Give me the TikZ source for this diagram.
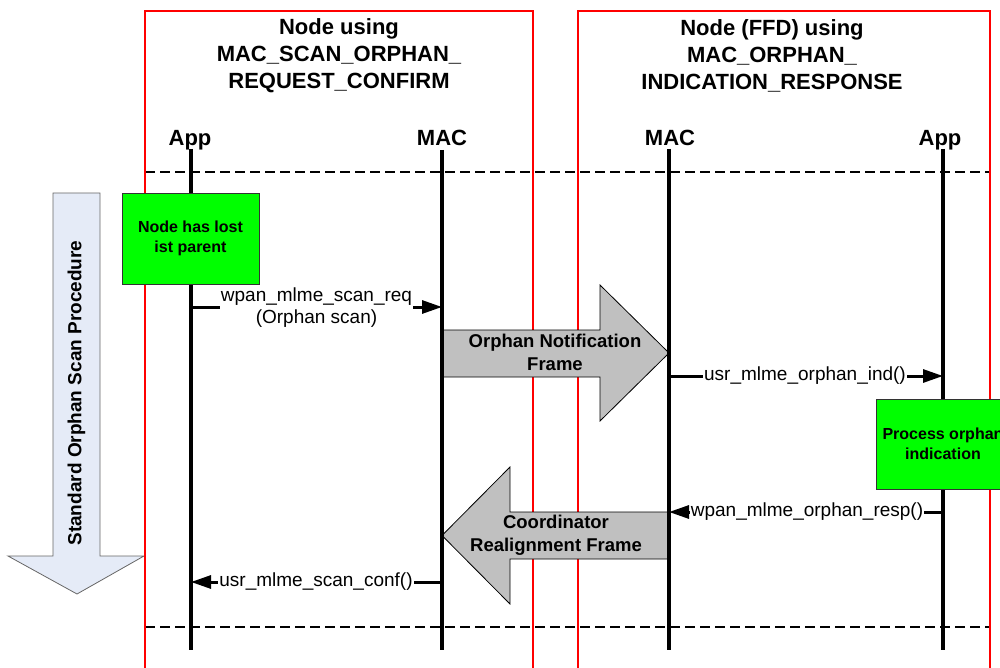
\documentclass[tikz,border=0pt]{standalone}
\usepackage{fontspec}
\setmainfont{Liberation Sans}
\usetikzlibrary{arrows.meta}
\definecolor{boxred}{RGB}{255,0,0}
\definecolor{framegray}{RGB}{192,192,192}
\definecolor{notegreen}{RGB}{0,255,0}
\definecolor{procblue}{RGB}{229,235,247}
\tikzset{
  lifeline/.style={line width=3.5pt},
  msgline/.style={line width=3pt, -{Triangle[length=20pt,width=13pt]}},
  msgtext/.style={fill=white, inner sep=1pt, font=\fontsize{19}{22}\selectfont},
  lbl/.style={font=\bfseries\fontsize{22}{26}\selectfont, inner sep=0pt},
  titletext/.style={font=\bfseries\fontsize{22}{27}\selectfont, align=center, inner sep=0pt},
  redline/.style={draw=boxred, line width=1.8pt},
  dashline/.style={line width=2pt, dash pattern=on 9.5pt off 5.5pt},
  framearrow/.style={fill=framegray, draw=black, line width=0.8pt},
  frametext/.style={font=\bfseries\fontsize{18.5}{23}\selectfont, align=center, inner sep=0pt},
  notebox/.style={fill=notegreen, draw=black!80, line width=0.8pt, align=center,
    font=\bfseries\fontsize{16}{19.5}\selectfont},
}
\begin{document}
\begin{tikzpicture}[x=1pt,y=-1pt]
\useasboundingbox (0,0) rectangle (1000,668);
\clip (0,0) rectangle (1000,668);

% procedure arrow
\draw[fill=procblue, draw=black!60, line width=0.8pt]
  (53,193) -- (100,193) -- (100,556) -- (144,556) -- (77,594) -- (8,556) -- (53,556) -- cycle;
\node[rotate=90, font=\bfseries\fontsize{19}{22}\selectfont, inner sep=0pt] (proc) at (76.5,393)
  {Standard Orphan Scan Procedure};

% dashed separators
\draw[dashline] (145,172) -- (990,172);
\draw[dashline] (145,627) -- (990,627);

% red boxes
\draw[redline] (145,675) |- (533,11) -- (533,675);
\draw[redline] (578,675) |- (990,11) -- (990,675);

% frame arrows
\draw[framearrow] (442,330) -- (600,330) -- (600,285) -- (669,353) -- (600,421) -- (600,377) -- (442,377) -- cycle;
\node[frametext] (orphfr) at (555,352.5) {Orphan Notification\\Frame};
\draw[framearrow] (669,512) -- (510,512) -- (510,467) -- (442,535.5) -- (510,604) -- (510,559) -- (669,559) -- cycle;
\node[frametext] (realfr) at (556,535.5) {Coordinator\\Realignment Frame};

% titles
\node[titletext] (titleL) at (339,56) {Node using\\MAC\_SCAN\_ORPHAN\_\\REQUEST\_CONFIRM};
\node[titletext] (titleR) at (772,56) {Node (FFD) using\\MAC\_ORPHAN\_\\INDICATION\_RESPONSE};

% lifeline labels
\node[lbl, anchor=base] (appL) at (190,145.5) {App};
\node[lbl, anchor=base] (macL) at (442,145.5) {MAC};
\node[lbl, anchor=base] (macR) at (670,145.5) {MAC};
\node[lbl, anchor=base] (appR) at (940,145.5) {App};

% lifelines
\coordinate (aLt) at (191,149); \coordinate (aLb) at (191,650);
\coordinate (mLt) at (442,150); \coordinate (mLb) at (442,650);
\coordinate (mRt) at (669,149); \coordinate (mRb) at (669,650);
\coordinate (aRt) at (943,149); \coordinate (aRb) at (943,650);
\draw[lifeline] (aLt) -- (aLb);
\draw[lifeline] (mLt) -- (mLb);
\draw[lifeline] (mRt) -- (mRb);
\draw[lifeline] (aRt) -- (aRb);

% notes
\node[notebox, minimum width=137pt, minimum height=91pt] (lost) at (190.5,238.5) {Node has lost\\ist parent};
\node[notebox, minimum width=134pt, minimum height=90pt] (procind) at (943,444) {Process orphan\\indication};

% messages
\coordinate (m1s) at (191,307); \coordinate (m1e) at (442,307);
\draw[msgline] (m1s) -- (m1e);
\node[msgtext, align=center] (t1) at (316.5,308) {wpan\_mlme\_scan\_req\\(Orphan scan)};

\coordinate (m2s) at (669,376); \coordinate (m2e) at (943,376);
\draw[msgline] (m2s) -- (m2e);
\node[msgtext] (t2) at (805,376) {usr\_mlme\_orphan\_ind()};

\coordinate (m3s) at (943,512); \coordinate (m3e) at (669,512);
\draw[msgline] (m3s) -- (m3e);
\node[msgtext] (t3) at (807,512) {wpan\_mlme\_orphan\_resp()};

\coordinate (m4s) at (442,582); \coordinate (m4e) at (191,582);
\draw[msgline] (m4s) -- (m4e);
\node[msgtext] (t4) at (316,582) {usr\_mlme\_scan\_conf()};
\end{tikzpicture}
\end{document}
